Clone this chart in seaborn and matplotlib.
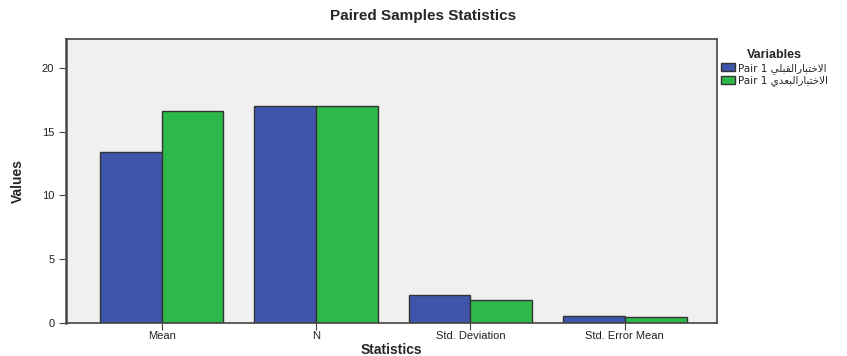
import matplotlib
matplotlib.use("Agg")
from matplotlib import pyplot as plt
import pandas as pd
import seaborn as sns

# data
categories = ["Mean", "N", "Std. Deviation", "Std. Error Mean"]
pre_values = [13.41, 17.0, 2.20, 0.53]
post_values = [16.65, 17.0, 1.80, 0.44]
pre_label = "الاختبارالقبلي"
post_label = "الاختبارالبعدي"

# tiny arabic shaper (matplotlib does no shaping / bidi)
FORMS = {
    "ا": ("\uFE8D", "\uFE8E", None, None),
    "ب": ("\uFE8F", "\uFE90", "\uFE91", "\uFE92"),
    "ت": ("\uFE95", "\uFE96", "\uFE97", "\uFE98"),
    "خ": ("\uFEA5", "\uFEA6", "\uFEA7", "\uFEA8"),
    "د": ("\uFEA9", "\uFEAA", None, None),
    "ر": ("\uFEAD", "\uFEAE", None, None),
    "ع": ("\uFEC9", "\uFECA", "\uFECB", "\uFECC"),
    "ق": ("\uFED5", "\uFED6", "\uFED7", "\uFED8"),
    "ل": ("\uFEDD", "\uFEDE", "\uFEDF", "\uFEE0"),
    "ي": ("\uFEF1", "\uFEF2", "\uFEF3", "\uFEF4"),
    "LA": ("\uFEFB", "\uFEFC", None, None),
}


def shape(text):
    chars = []
    i = 0
    while i < len(text):
        if text[i] == "ل" and i + 1 < len(text) and text[i + 1] == "ا":
            chars.append("LA")
            i += 2
        else:
            chars.append(text[i])
            i += 1
    out = []
    for k, c in enumerate(chars):
        f = FORMS[c]
        prev_joins = k > 0 and FORMS[chars[k - 1]][2] is not None
        next_joins = k + 1 < len(chars) and f[2] is not None
        if prev_joins and next_joins:
            out.append(f[3])
        elif prev_joins:
            out.append(f[1])
        elif next_joins:
            out.append(f[2])
        else:
            out.append(f[0])
    return "".join(reversed(out))


series = ["Pair 1 " + shape(pre_label), "Pair 1 " + shape(post_label)]

df = pd.DataFrame({
    "Statistics": categories * 2,
    "Values": pre_values + post_values,
    "Variables": [series[0]] * 4 + [series[1]] * 4,
})

sns.set_style("ticks")
plt.rcParams["font.family"] = ["Liberation Sans", "DejaVu Sans"]

fig = plt.figure(figsize=(8.47, 3.56), dpi=100)
ax = fig.add_axes([0.078, 0.093, 0.769, 0.797])
ax.set_facecolor("#f0f0f0")

sns.barplot(data=df, x="Statistics", y="Values", hue="Variables",
            palette=["#3d56ab", "#2db84a"], saturation=1,
            edgecolor="#333333", linewidth=1.0, width=0.8, ax=ax)

ax.set_ylim(0, 22.27)
ax.set_xlim(-0.62, 3.6)
ax.set_yticks([0, 5, 10, 15, 20])
ax.tick_params(axis="both", labelsize=8, length=5, color="#444444",
               labelcolor="#222222")
ax.tick_params(axis="x", pad=1)
for s in ax.spines.values():
    s.set_color("#444444")
    s.set_linewidth(1.2)
ax.spines["left"].set_linewidth(1.8)

ax.set_xlabel("Statistics", fontsize=10, fontweight="bold", labelpad=1)
ax.set_ylabel("Values", fontsize=10, fontweight="bold", labelpad=12,
              fontstretch="condensed")
fig.suptitle("Paired Samples Statistics", x=0.5, y=0.975, fontsize=11,
             fontweight="bold")

leg = ax.legend(title="Variables", loc="upper left", bbox_to_anchor=(0.995, 0.99),
                frameon=False, handlelength=1.3, handleheight=0.8,
                handletextpad=0.3, borderaxespad=0.3, labelspacing=0.15,
                prop={"family": ["DejaVu Sans"], "size": 7.5})
leg.get_title().set_fontweight("bold")
leg.get_title().set_fontsize(9)

fig.savefig("out.png", dpi=100)
